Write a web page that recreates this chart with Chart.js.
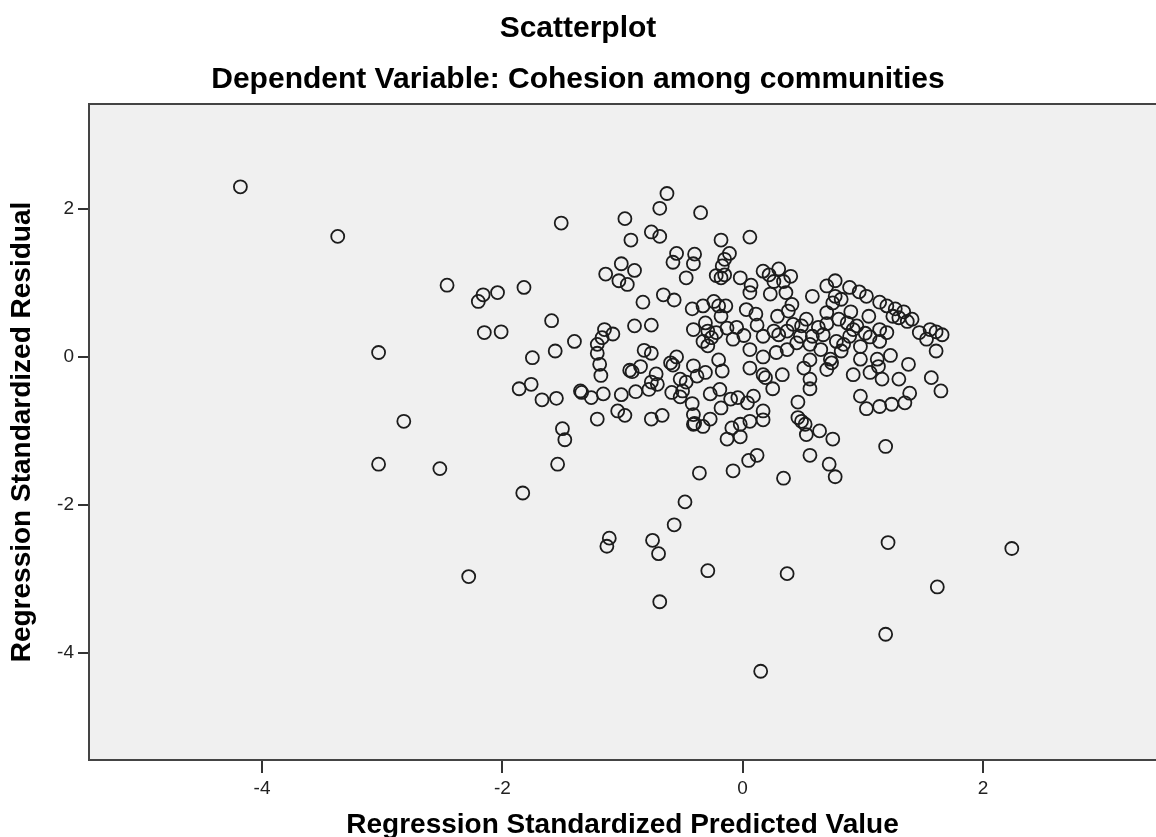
<!DOCTYPE html>
<html>
<head>
<meta charset="utf-8">
<title>Scatterplot</title>
<script src="https://cdn.jsdelivr.net/npm/chart.js@4.4.1/dist/chart.umd.min.js"></script>
<style>
  html, body { margin: 0; padding: 0; background: #fff; overflow: hidden; }
</style>
</head>
<body>
<canvas id="scatter" width="1156" height="837"></canvas>
<script>
// Regression Standardized Predicted Value (x) / Regression Standardized Residual (y)
const predicted = [
  -4.18, -3.37, -3.03, -2.82, -3.03, -2.52, -2.46, -2.28, -2.20, -2.16,
  -2.04, -2.15, -2.01, -1.82, -1.86, -1.83, -1.76, -1.75, -1.67, -1.59,
  -1.56, -1.55, -1.54, -1.51, -1.50, -1.48, -1.40, -1.35, -1.34, -1.26,
  -1.16, -1.21, -1.15, -1.17, -1.08, -1.21, -1.21, -1.19, -1.18, -1.14,
  -1.01, -0.90, -1.03, -0.96, -0.98, -0.93, -0.76, -0.69, -0.69, -0.63,
  -0.83, -0.66, -0.57, -0.90, -0.76, -0.82, -0.76, -0.94, -0.92, -0.85,
  -0.72, -0.76, -0.71, -0.78, -0.89, -1.01, -1.04, -0.98, -0.76, -0.67,
  -0.55, -0.60, -0.58, -0.41, -0.52, -0.47, -0.59, -0.50, -0.52, -0.42,
  -0.41, -0.41, -0.55, -0.58, -0.47, -0.40, -0.41, -0.35, -0.42, -0.41,
  -0.18, 0.06, -0.11, -0.15, -0.17, -0.22, -0.18, -0.15, -0.02, 0.07,
  0.06, 0.17, 0.22, 0.30, 0.26, 0.34, 0.40, 0.23, 0.36, -0.33,
  -0.24, -0.20, -0.14, -0.18, 0.03, 0.11, 0.29, 0.41, 0.58, 0.70,
  0.77, 0.89, 0.97, 1.03, 0.77, 0.82, 1.14, 1.20, 1.27, 1.34,
  1.41, 1.25, 1.30, 1.37, 1.47, 1.56, 1.61, 1.66, 1.53, 1.61,
  1.57, 1.65, 1.05, 1.14, 1.06, 1.14, 1.23, 0.98, 1.12, 1.13,
  1.06, 0.92, 1.16, 1.30, 1.38, 0.98, 1.03, 1.14, 1.24, 1.35,
  1.39, 0.70, 0.75, 0.80, 0.87, 0.92, 0.95, 0.89, 0.84, 0.70,
  0.67, 0.58, 0.49, 0.53, 0.42, 0.37, 0.30, 0.26, 0.17, 0.01,
  -0.08, -0.13, -0.22, -0.31, -0.29, -0.26, -0.29, -0.33, 0.06, 0.17,
  0.28, 0.37, 0.45, 0.56, 0.78, 0.82, 0.73, 0.56, 0.51, 0.70,
  0.74, 0.56, 0.56, 0.33, 0.25, 0.17, 0.19, 0.06, -0.20, -0.17,
  -0.31, -0.38, -0.27, -0.19, -0.18, -0.10, -0.04, 0.04, 0.09, 0.17,
  0.17, 0.06, -0.02, -0.09, -0.13, -0.02, -0.27, -0.33, -0.40, 0.46,
  0.46, 0.49, 0.52, 0.53, 0.64, 0.75, 1.19, 0.56, 0.72, 0.77,
  0.34, 0.12, 0.05, -0.08, -0.36, -0.48, -0.57, -0.75, -0.70, -0.29,
  0.37, -0.69, 1.21, 1.62, 1.19, 2.24, 0.15, -1.13, -1.11, 0.63,
  0.48, 0.98, 1.02, 0.90, 0.12, -0.05, 0.38, 0.65, 1.20
];
const residual = [
  2.30, 1.63, 0.06, -0.87, -1.45, -1.51, 0.97, -2.97, 0.75, 0.84,
  0.87, 0.33, 0.34, 0.94, -0.43, -1.84, -0.37, -0.01, -0.58, 0.49,
  0.08, -0.56, -1.45, 1.81, -0.97, -1.12, 0.21, -0.46, -0.48, -0.55,
  -0.50, -0.84, 0.37, 0.26, 0.31, 0.17, 0.05, -0.10, -0.25, 1.12,
  1.26, 1.17, 1.03, 0.98, 1.87, 1.58, 1.69, 1.63, 2.01, 2.21,
  0.74, 0.84, 0.77, 0.42, 0.43, 0.09, 0.05, -0.18, -0.20, -0.13,
  -0.23, -0.34, -0.37, -0.44, -0.47, -0.51, -0.73, -0.79, -0.84, -0.79,
  0.00, -0.08, -0.11, -0.12, -0.30, -0.34, -0.48, -0.46, -0.54, -0.63,
  -0.78, -0.91, 1.40, 1.28, 1.07, 1.39, 1.26, 1.95, 0.65, 0.37,
  1.58, 1.62, 1.40, 1.32, 1.23, 1.10, 1.07, 1.11, 1.07, 0.97,
  0.87, 1.16, 1.11, 1.19, 1.02, 1.02, 1.09, 0.85, 0.87, 0.69,
  0.75, 0.69, 0.69, 0.55, 0.64, 0.58, 0.55, 0.71, 0.82, 0.96,
  1.03, 0.94, 0.88, 0.82, 0.82, 0.78, 0.74, 0.69, 0.65, 0.61,
  0.51, 0.55, 0.53, 0.48, 0.33, 0.37, 0.34, 0.30, 0.24, 0.08,
  -0.28, -0.46, 0.55, 0.37, 0.27, 0.21, 0.02, -0.03, -0.03, -0.13,
  -0.21, -0.24, -0.30, -0.30, -0.10, -0.53, -0.70, -0.67, -0.64, -0.62,
  -0.49, 0.60, 0.73, 0.51, 0.46, 0.37, 0.42, 0.28, 0.17, 0.45,
  0.30, 0.28, 0.42, 0.51, 0.44, 0.35, 0.30, 0.35, 0.28, 0.29,
  0.24, 0.39, 0.33, 0.46, 0.35, 0.26, 0.15, 0.21, 0.10, 0.00,
  0.06, 0.10, 0.19, 0.17, 0.21, 0.08, -0.03, -0.04, -0.15, -0.17,
  -0.08, -0.30, -0.43, -0.24, -0.43, -0.24, -0.28, -0.15, -0.04, -0.19,
  -0.21, -0.26, -0.50, -0.44, -0.69, -0.57, -0.55, -0.62, -0.53, -0.73,
  -0.85, -0.87, -0.91, -0.96, -1.11, -1.08, -0.84, -0.94, -0.90, -0.61,
  -0.82, -0.87, -0.91, -1.05, -1.00, -1.11, -1.21, -1.33, -1.45, -1.62,
  -1.64, -1.33, -1.40, -1.54, -1.57, -1.96, -2.27, -2.48, -2.66, -2.89,
  -2.93, -3.31, -2.51, -3.11, -3.75, -2.59, -4.25, -2.56, -2.45, 0.40,
  0.28, 0.14, 0.32, 0.61, 0.43, 0.40, 0.62, 0.10, 0.33
];

const points = predicted.map((x, i) => ({ x: x, y: residual[i] }));

const baseFont = "'Liberation Sans', Arial, sans-serif";

// grey plot area, and the top edge of the frame (right edge is cut off in the original)
const plotFrame = {
  id: 'plotFrame',
  beforeDraw(chart) {
    const { ctx, chartArea: a } = chart;
    ctx.save();
    ctx.fillStyle = '#ffffff';
    ctx.fillRect(0, 0, chart.width, chart.height);
    ctx.fillStyle = '#f0f0f0';
    ctx.fillRect(a.left, a.top, a.right - a.left, a.bottom - a.top);
    ctx.restore();
  },
  afterDraw(chart) {
    const { ctx, chartArea: a } = chart;
    ctx.save();
    ctx.strokeStyle = '#444';
    ctx.lineWidth = 2;
    ctx.beginPath();
    ctx.moveTo(a.left - 1, a.top);
    ctx.lineTo(a.right, a.top);
    ctx.stroke();
    ctx.restore();
  }
};

const scatterChart = new Chart(
  document.getElementById('scatter').getContext('2d'),
  {
    type: 'scatter',
    data: {
      datasets: [{
        label: 'Residuals',
        data: points,
        pointStyle: 'circle',
        pointRadius: 6.5,
        pointHoverRadius: 6.5,
        borderWidth: 1.8,
        borderColor: '#1c1c1c',
        backgroundColor: 'rgba(0,0,0,0)'
      }]
    },
    options: {
      responsive: false,
      animation: false,
      devicePixelRatio: 1,
      layout: { padding: 0, autoPadding: false },
      plugins: {
        legend: { display: false },
        tooltip: { enabled: false },
        title: {
          display: true,
          text: 'Scatterplot',
          color: '#000',
          font: { family: baseFont, size: 30, weight: 'bold' },
          padding: { top: 11, bottom: 8 }
        },
        subtitle: {
          display: true,
          text: 'Dependent Variable: Cohesion among communities',
          color: '#000',
          font: { family: baseFont, size: 30, weight: 'bold' },
          padding: { top: 6.5, bottom: 6.5 }
        }
      },
      scales: {
        x: {
          type: 'linear',
          min: -5.44,
          max: 3.44,
          afterFit: scale => { scale.height = 77; },
          border: { display: true, color: '#444', width: 2 },
          grid: {
            drawOnChartArea: false,
            drawTicks: true,
            tickLength: 13,
            color: '#333',
            lineWidth: 2
          },
          ticks: {
            stepSize: 2,
            includeBounds: false,
            padding: 4,
            color: '#222',
            font: { family: baseFont, size: 19 }
          },
          title: {
            display: true,
            text: 'Regression Standardized Predicted Value',
            color: '#000',
            font: { family: baseFont, size: 28, weight: 'bold' },
            padding: { top: 0, bottom: -5 }
          }
        },
        y: {
          type: 'linear',
          min: -5.45,
          max: 3.42,
          afterFit: scale => { scale.width = 89; },
          border: { display: true, color: '#444', width: 2 },
          grid: {
            drawOnChartArea: false,
            drawTicks: true,
            tickLength: 11,
            color: '#333',
            lineWidth: 2
          },
          ticks: {
            stepSize: 2,
            includeBounds: false,
            padding: 4,
            color: '#222',
            font: { family: baseFont, size: 19 }
          },
          title: {
            display: true,
            text: 'Regression Standardized Residual',
            color: '#000',
            font: { family: baseFont, size: 28, weight: 'bold' },
            padding: { top: 5, bottom: 0 }
          }
        }
      }
    },
    plugins: [plotFrame]
  }
);
</script>
</body>
</html>
